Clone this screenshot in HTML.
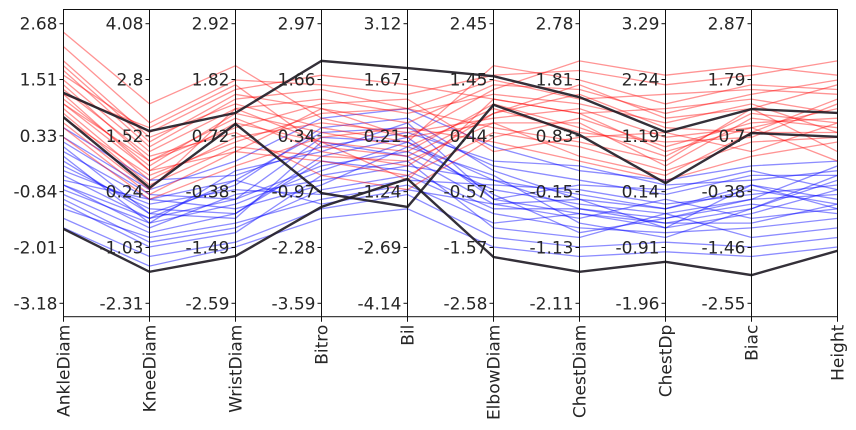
<!DOCTYPE html>
<html><head><meta charset="utf-8">
<style>
body{margin:0;background:#fff;}
svg{display:block;font-family:"DejaVu Sans","Liberation Sans",sans-serif;}
</style></head>
<body>
<svg id="chart" width="856" height="430" viewBox="0 0 856 430"></svg>
<script>
const categories=["AnkleDiam","KneeDiam","WristDiam","Bitro","Bil","ElbowDiam","ChestDiam","ChestDp","Biac","Height"];
const leftTicks=["2.68","1.51","0.33","-0.84","-2.01","-3.18"];
const axisTicks=[
 null,
 ["4.08","2.8","1.52","0.24","-1.03","-2.31"],
 ["2.92","1.82","0.72","-0.38","-1.49","-2.59"],
 ["2.97","1.66","0.34","-0.97","-2.28","-3.59"],
 ["3.12","1.67","0.21","-1.24","-2.69","-4.14"],
 ["2.45","1.45","0.44","-0.57","-1.57","-2.58"],
 ["2.78","1.81","0.83","-0.15","-1.13","-2.11"],
 ["3.29","2.24","1.19","0.14","-0.91","-1.96"],
 ["2.87","1.79","0.7","-0.38","-1.46","-2.55"],
 null];
const tickValues=[2.68,1.51,0.33,-0.84,-2.01,-3.18];
const redLines=[
[1.8,0.2,1.2,0.9,0.6,1.4,1.3,0.8,1.2,1.5],
[1.2,-0.4,0.6,0.2,0.0,1.0,0.5,-0.1,0.8,0.6],
[0.9,-0.6,0.3,0.6,0.4,0.7,0.9,0.3,0.5,0.9],
[2.2,0.6,1.5,1.4,1.2,1.6,1.7,1.4,1.6,1.9],
[0.5,-0.9,0.0,-0.2,-0.5,0.4,0.1,-0.4,0.2,0.3],
[1.5,0.0,0.9,1.1,0.8,1.2,1.0,0.6,1.0,0.4],
[1.0,-0.2,0.7,0.0,-0.3,0.8,1.2,0.5,0.4,1.1],
[0.7,-0.5,0.2,0.8,0.9,0.5,0.2,-0.2,0.9,0.0],
[1.9,0.3,1.0,0.5,0.2,1.8,1.5,1.0,1.4,1.3],
[1.3,-0.1,0.4,-0.5,-0.8,0.3,0.7,0.1,0.6,0.7],
[0.3,-1.0,-0.3,0.3,0.5,0.2,-0.2,-0.6,-0.1,0.2],
[1.6,0.4,1.3,1.6,1.4,1.1,0.8,0.9,1.1,0.8],
[1.1,-0.3,0.8,0.4,0.1,0.9,0.4,0.2,0.3,1.0],
[2.5,1.0,1.8,0.7,0.3,1.3,1.9,1.6,1.8,1.6],
[0.8,-0.7,0.1,-0.1,-0.2,0.6,0.6,-0.3,0.7,0.5],
[1.4,-0.2,0.5,1.0,1.1,0.0,0.3,0.4,0.0,0.6],
[0.6,-0.8,0.9,0.2,-0.6,1.1,0.8,0.0,0.5,-0.2],
[1.7,0.1,1.1,1.3,0.9,1.5,1.1,1.2,1.3,1.2],
[1.0,-0.4,0.0,0.9,0.3,0.6,-0.1,-0.5,0.4,0.4],
[1.2,0.5,1.4,0.1,-0.1,0.8,1.4,0.7,0.9,1.4]];
const blueLines=[
[-0.5,-1.4,-1.0,-0.3,0.0,-0.8,-1.1,-1.3,-1.0,-0.9],
[-1.0,-1.9,-1.6,-0.8,-0.5,-1.3,-1.6,-1.7,-1.6,-1.4],
[0.0,-1.0,-0.6,0.4,0.5,-0.3,-0.6,-0.9,-0.5,-0.5],
[-0.3,-1.2,-1.3,-0.1,0.3,-1.0,-1.3,-1.5,-1.2,-0.6],
[-1.4,-2.2,-1.9,-1.2,-0.9,-1.8,-2.0,-1.9,-2.0,-1.8],
[0.3,-0.8,-0.2,0.7,0.9,0.1,-0.4,-0.6,-0.3,-0.2],
[-0.7,-1.6,-0.9,-0.6,-0.3,-0.6,-0.9,-1.2,-0.8,-1.1],
[-0.2,-1.3,-1.4,0.2,-0.1,-1.1,-1.4,-1.0,-1.4,-1.2],
[-1.2,-1.8,-1.5,-1.0,-0.7,-1.5,-1.3,-1.6,-1.3,-0.8],
[0.5,-0.6,-0.5,0.1,0.4,-0.2,-0.3,-0.7,-0.6,-0.4],
[-0.8,-1.5,-1.1,-0.4,0.2,-0.9,-1.7,-1.4,-1.1,-1.3],
[-0.4,-1.1,-0.8,-0.9,-0.6,-0.7,-0.8,-1.1,-0.9,-0.7],
[-1.6,-2.4,-2.0,-1.4,-1.2,-2.0,-2.2,-2.1,-2.2,-2.0],
[0.1,-1.3,-0.7,0.5,0.7,-0.4,-1.0,-1.2,-0.7,-1.0],
[-0.9,-1.7,-1.3,-0.2,-0.4,-1.2,-1.2,-1.5,-1.5,-1.1],
[-0.6,-1.0,-1.2,-0.7,0.1,-0.5,-1.5,-1.8,-1.2,-0.5],
[-0.1,-1.5,-0.4,0.0,0.6,-1.0,-0.7,-0.8,-0.4,-0.8],
[-1.1,-2.0,-1.7,-0.5,-0.2,-1.6,-1.8,-1.3,-1.8,-1.6],
[0.2,-0.9,-1.0,0.3,0.2,-0.6,-1.2,-1.4,-1.0,-0.3],
[-0.7,-1.4,-0.6,-1.1,-0.8,-1.1,-1.0,-1.6,-0.7,-1.2]];
const darkLines=[
[1.23,0.43,0.81,1.90,1.75,1.58,1.14,0.41,0.89,0.81],
[0.72,-0.76,0.58,-0.87,-1.16,0.98,0.35,-0.66,0.39,0.31],
[-1.62,-2.52,-2.19,-1.16,-0.57,-2.21,-2.52,-2.31,-2.59,-2.08]];

const NS="http://www.w3.org/2000/svg";
const svg=document.getElementById('chart');
const L=63.5,R=837.5,T=9.5,B=316.7;
const xPos=i=>L+i*(R-L)/(categories.length-1);
const yPos=v=>303.3-(v+3.18)/5.86*279.6;
function mk(tag,attrs,parent){const e=document.createElementNS(NS,tag);for(const k in attrs)e.setAttribute(k,attrs[k]);(parent||svg).appendChild(e);return e;}
const clip=mk('clipPath',{id:'pc'});mk('rect',{x:L,y:T,width:R-L,height:B-T},clip);
const g=mk('g',{'clip-path':'url(#pc)'});
function pts(row){return row.map((v,i)=>xPos(i).toFixed(1)+','+yPos(v).toFixed(1)).join(' ');}
blueLines.forEach(row=>{const p=mk('polyline',{points:pts(row),fill:'none',stroke:'rgba(0,0,255,0.45)','stroke-width':1.3},g);

});
redLines.forEach(row=>{const p=mk('polyline',{points:pts(row),fill:'none',stroke:'rgba(255,0,0,0.42)','stroke-width':1.3},g);

});
darkLines.forEach(row=>{const p=mk('polyline',{points:pts(row),fill:'none',stroke:'rgba(30,25,35,0.9)','stroke-width':2.4},g);

});
categories.forEach((c,i)=>{
 const x=xPos(i);
 const ln=mk('line',{x1:x,y1:T,x2:x,y2:B+5,stroke:'#111','stroke-width':1});
 
 
 const t=mk('text',{x:0,y:0,transform:`translate(${x+6},${B+8}) rotate(-90)`,'text-anchor':'end','font-size':17,fill:'#262626'});
 t.textContent=c;
 
 
 const labels=i===0?leftTicks:axisTicks[i];
 if(labels){labels.forEach((lab,k)=>{
  const y=yPos(tickValues[k]);
  mk('line',{x1:x-4,y1:y,x2:x,y2:y,stroke:'#111','stroke-width':1});
  const tt=mk('text',{x:x-6,y:y+6,'text-anchor':'end','font-size':17,fill:'#262626'});
  tt.textContent=lab;
  
  
 });}
});
const fr=mk('rect',{x:L,y:T,width:R-L,height:B-T,fill:'none',stroke:'#111','stroke-width':1});


</script>
</body></html>
